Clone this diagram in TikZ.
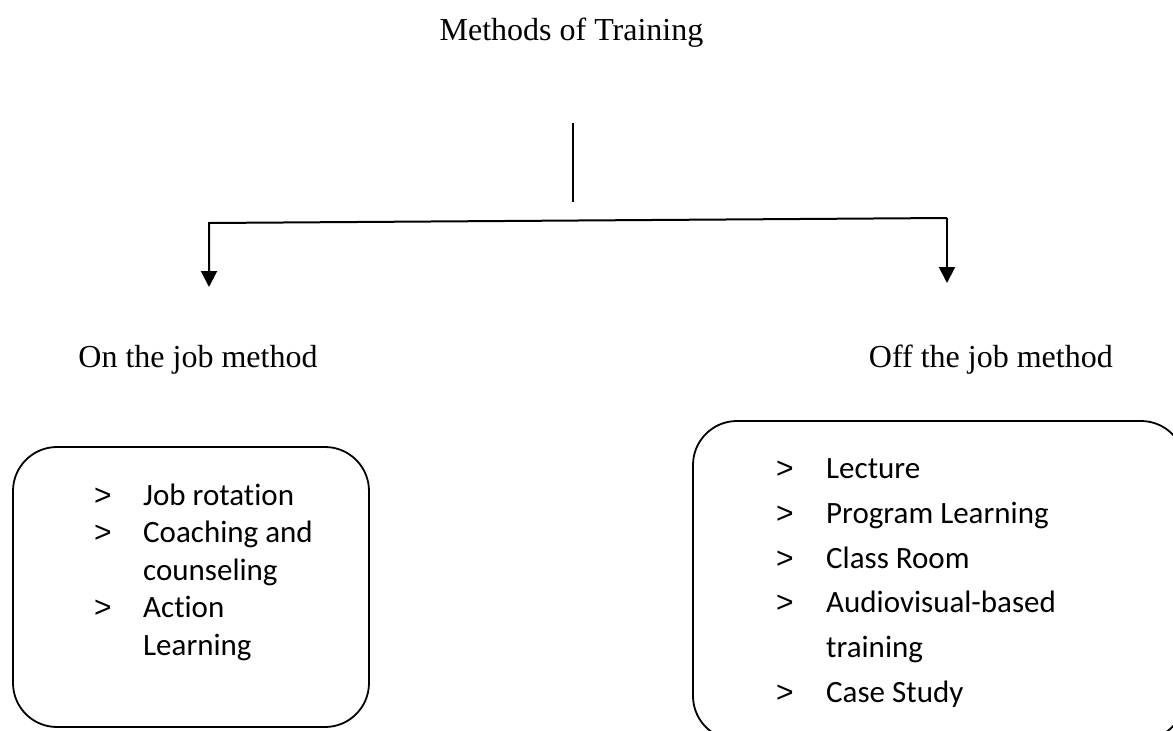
\documentclass[tikz,border=0pt]{standalone}
\usepackage{fontspec}
\setmainfont{Liberation Serif}
\newfontfamily\calfont[Ligatures=NoCommon]{Carlito}
\newfontfamily\bulfont{Liberation Sans}
\usetikzlibrary{arrows.meta}
\begin{document}
\begin{tikzpicture}[x=1pt,y=-1pt,
 ttl/.style={font=\fontsize{32}{38}\selectfont, inner sep=0pt, anchor=base},
 item/.style={font=\calfont\fontsize{31}{37}\selectfont, inner sep=0pt, anchor=base west},
 bul/.style={font=\bulfont\fontsize{30}{36}\selectfont, inner sep=0pt, anchor=base west},
 box/.style={draw, line width=1.8pt, rounded corners=44pt, inner sep=0pt, outer sep=0pt},
 conn/.style={line width=1.6pt},
 arr/.style={line width=2pt, -{Triangle[width=16pt,length=16pt]}}]
\useasboundingbox (0,0) rectangle (1173,731);
\clip (0,0) rectangle (1173,731);

% title and headings
\node[ttl] (title) at (571.5,40) {Methods of Training};
\node[ttl] (on) at (198,367) {On the job method};
\node[ttl, anchor=base east] (off) at (1113,367) {Off the job method};

% connectors
\coordinate (s1) at (573,123);
\coordinate (s2) at (573,202);
\coordinate (bl) at (209,223);
\coordinate (br) at (947,218);
\coordinate (tl) at (209,287);
\coordinate (tr) at (947,283);
\draw[conn] (s1) -- (s2);
\draw[arr] (br) -- (bl) -- (tl);
\draw[arr] (br) -- (tr);

% boxes
\node[box, minimum width=356pt, minimum height=280pt] (lbox) at (191,587) {};
\node[box, minimum width=492pt, minimum height=319pt] (rbox) at (939,580.5) {};

% left items
\node[bul] (lb1) at (94,505) {>};
\node[item] (lt1) at (143,505) {Job rotation};
\node[bul] (lb2) at (94,542.5) {>};
\node[item] (lt2) at (143,542.5) {Coaching and};
\node[item] (lt3) at (143,580) {counseling};
\node[bul] (lb4) at (94,617.5) {>};
\node[item] (lt4) at (143,617.5) {Action};
\node[item] (lt5) at (143,655) {Learning};

% right items
\node[bul] (rb1) at (776,478) {>};
\node[item] (rt1) at (826,478) {Lecture};
\node[bul] (rb2) at (776,523) {>};
\node[item] (rt2) at (826,523) {Program Learning};
\node[bul] (rb3) at (776,568) {>};
\node[item] (rt3) at (826,568) {Class Room};
\node[bul] (rb4) at (776,612) {>};
\node[item] (rt4) at (826,612) {Audiovisual-based};
\node[item] (rt5) at (826,657) {training};
\node[bul] (rb6) at (776,702) {>};
\node[item] (rt6) at (826,702) {Case Study};
\end{tikzpicture}
\end{document}
